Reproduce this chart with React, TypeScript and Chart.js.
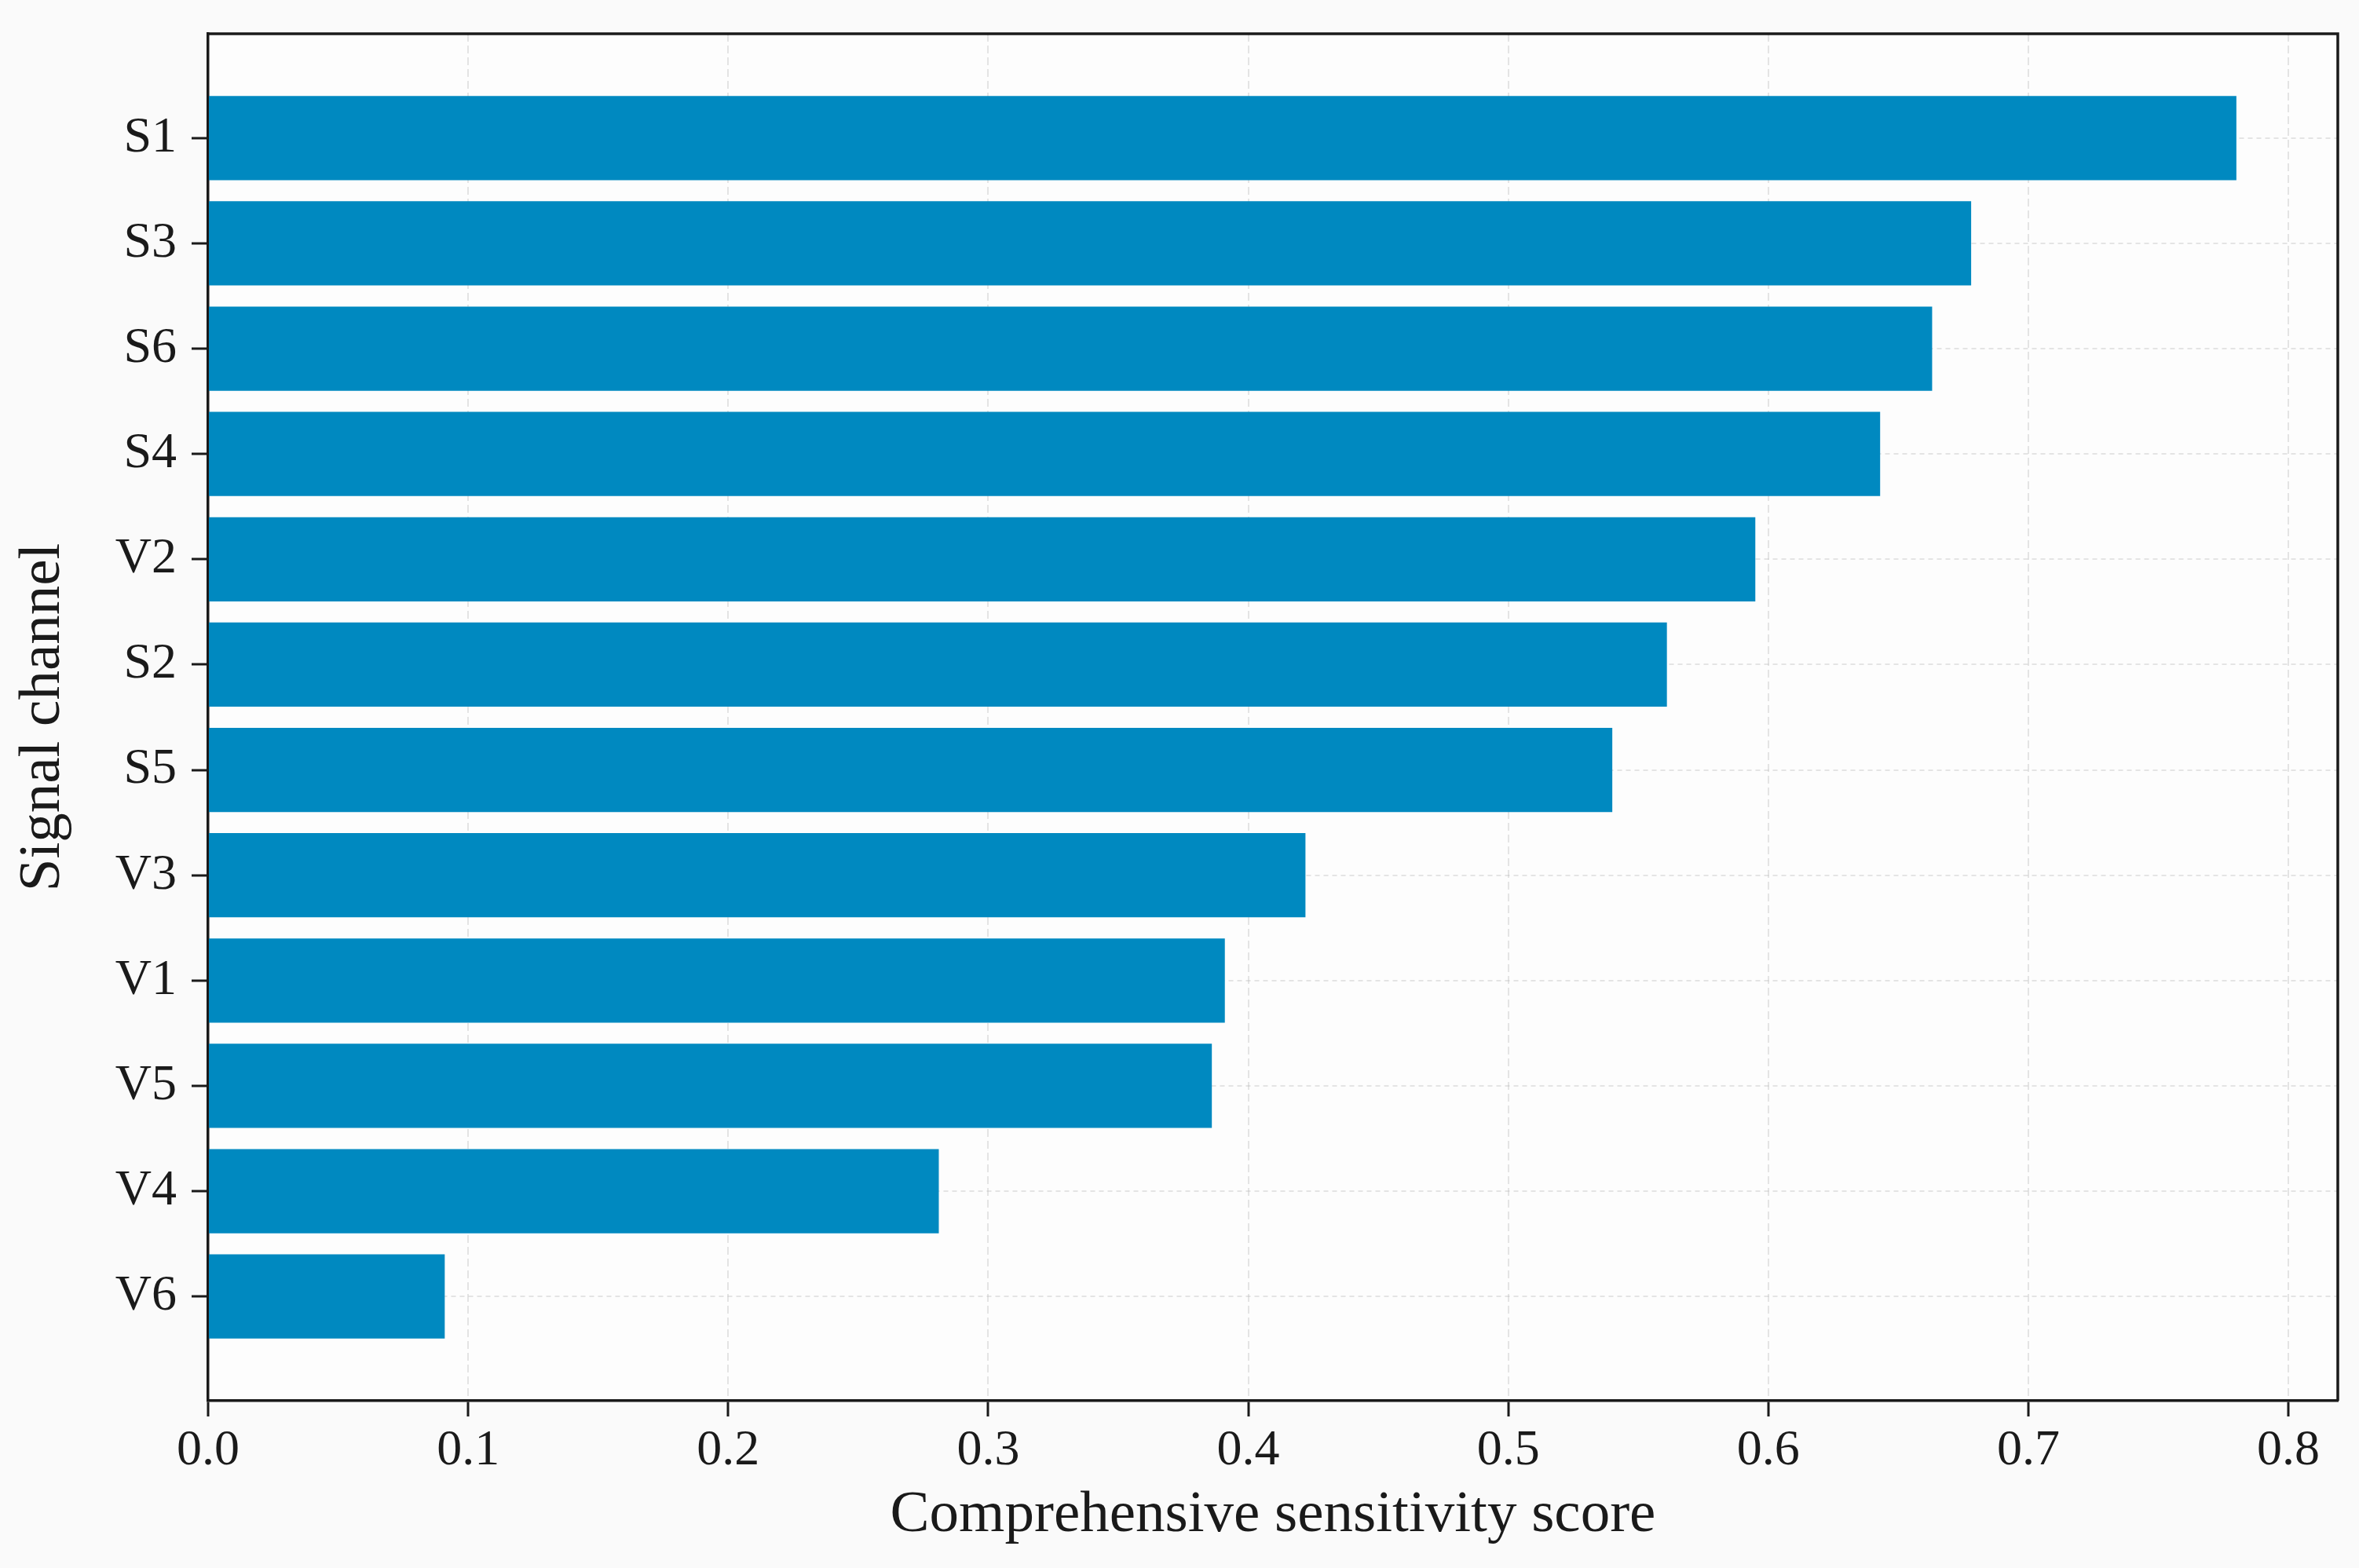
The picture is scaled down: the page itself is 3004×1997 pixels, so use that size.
import { useEffect, useRef } from "react"
import { Chart, registerables } from "chart.js"

Chart.register(...registerables)

// channels from top to bottom, with the comprehensive score
const channels = ["S1", "S3", "S6", "S4", "V2", "S2", "S5", "V3", "V1", "V5", "V4", "V6"]
const scores = [0.78, 0.678, 0.663, 0.643, 0.595, 0.561, 0.54, 0.422, 0.391, 0.386, 0.281, 0.091]

const xTickValues = [0, 0.1, 0.2, 0.3, 0.4, 0.5, 0.6, 0.7, 0.8]
const xTickLabels = ["0.0", "0.1", "0.2", "0.3", "0.4", "0.5", "0.6", "0.7", "0.8"]
const xMax = 0.819
const yMin = -0.99
const yMax = 11.99

const FONT = "'Liberation Serif', 'Times New Roman', serif"
const INK = "#1a1a1a"
const GRID = "rgba(190, 190, 190, 0.4)"

const framePlugin = {
  id: "frame",
  beforeDraw(chart: Chart) {
    const { ctx, chartArea: a, width, height } = chart
    ctx.save()
    ctx.fillStyle = "#fafafa"
    ctx.fillRect(0, 0, width, height)
    ctx.fillStyle = "#fdfdfd"
    ctx.fillRect(a.left, a.top, a.right - a.left, a.bottom - a.top)
    ctx.restore()
  },
  afterDraw(chart: Chart) {
    // matplotlib style box: close the top and right sides
    const { ctx, chartArea: a } = chart
    ctx.save()
    ctx.strokeStyle = INK
    ctx.lineWidth = 3.5
    ctx.beginPath()
    ctx.moveTo(a.left, a.top)
    ctx.lineTo(a.right, a.top)
    ctx.lineTo(a.right, a.bottom)
    ctx.stroke()
    ctx.restore()
  },
}

export default function App() {
  const canvasRef = useRef<HTMLCanvasElement | null>(null)
  const chartRef = useRef<Chart | null>(null)

  useEffect(() => {
    document.body.style.margin = "0"
    document.body.style.background = "#fafafa"
    if (!canvasRef.current) return
    if (chartRef.current) chartRef.current.destroy()

    chartRef.current = new Chart(canvasRef.current, {
      type: "bar",
      data: {
        datasets: [
          {
            label: "Comprehensive sensitivity score",
            data: scores.map((v, i) => ({ x: v, y: i })),
            backgroundColor: "#0089c0",
            borderWidth: 0,
            barPercentage: 0.8,
            categoryPercentage: 1,
          },
        ],
      },
      options: {
        indexAxis: "y",
        responsive: false,
        animation: false,
        devicePixelRatio: 1,
        layout: { padding: { top: 43, right: 27, left: 0, bottom: 0 } },
        plugins: {
          legend: { display: false },
          tooltip: { enabled: false },
        },
        scales: {
          x: {
            type: "linear",
            position: "bottom",
            min: 0,
            max: xMax,
            z: 1,
            afterBuildTicks: (scale: any) => {
              scale.ticks = xTickValues.map((value) => ({ value }))
            },
            afterFit: (scale: any) => {
              scale.height = 213
              scale.paddingLeft = 0
              scale.paddingRight = 0
            },
            ticks: {
              callback: (_v: any, i: number) => xTickLabels[i],
              font: { family: FONT, size: 64 },
              color: INK,
              padding: 6,
              maxRotation: 0,
              autoSkip: false,
            },
            grid: {
              color: GRID,
              lineWidth: 2,
              tickLength: 20,
              tickColor: INK,
              tickWidth: 3,
              tickBorderDash: [],
            },
            border: { color: INK, width: 3.5, dash: [10, 5] },
            title: {
              display: true,
              text: "Comprehensive sensitivity score",
              font: { family: FONT, size: 75 },
              color: INK,
              padding: { top: 0, bottom: 22 },
            },
          },
          y: {
            type: "linear",
            position: "left",
            min: yMin,
            max: yMax,
            reverse: true,
            offset: false,
            z: 1,
            afterBuildTicks: (scale: any) => {
              scale.ticks = channels.map((_c, i) => ({ value: i }))
            },
            afterFit: (scale: any) => {
              scale.width = 265
              scale.paddingTop = 0
              scale.paddingBottom = 0
            },
            ticks: {
              callback: (v: any) => channels[v as number],
              font: { family: FONT, size: 64 },
              color: INK,
              padding: 19,
              autoSkip: false,
            },
            grid: {
              offset: false,
              color: GRID,
              lineWidth: 2,
              tickLength: 21,
              tickColor: INK,
              tickWidth: 3,
              tickBorderDash: [],
            },
            border: { color: INK, width: 3.5, dash: [6, 5] },
            title: {
              display: true,
              text: "Signal channel",
              font: { family: FONT, size: 75 },
              color: INK,
              padding: { top: 10, bottom: 0 },
            },
          },
        },
      },
      plugins: [framePlugin],
    })

    return () => {
      if (chartRef.current) {
        chartRef.current.destroy()
        chartRef.current = null
      }
    }
  }, [])

  return (
    <div style={{ width: 3004, height: 1997 }}>
      <canvas ref={canvasRef} width={3004} height={1997} style={{ display: "block" }} />
    </div>
  )
}
